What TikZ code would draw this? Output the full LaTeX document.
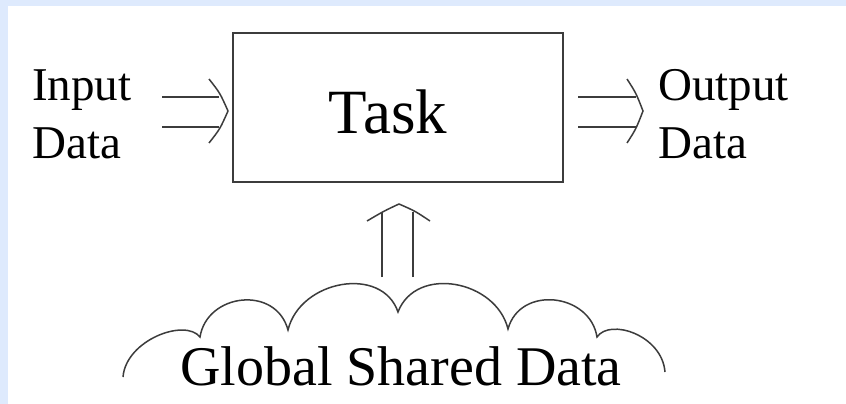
\documentclass[tikz,border=0pt]{standalone}
\usepackage{fontspec}
\setmainfont{Liberation Serif}
\definecolor{bgblue}{RGB}{222,234,253}
\definecolor{ink}{RGB}{60,60,60}
\begin{document}
\begin{tikzpicture}[x=1pt,y=-1pt,
  ln/.style={draw=ink,line width=1.5pt},
  lab/.style={inner sep=0pt,text=black,anchor=base west,align=left},
  midfont/.style={font=\fontsize{47}{58}\selectfont}]
\fill[bgblue] (0,0) rectangle (846,404);
\fill[white] (8,6) rectangle (846,404);
\useasboundingbox (0,0) rectangle (846,404);

% task box
\node[ln,minimum width=330pt,minimum height=149pt,inner sep=0pt,
      text height=51pt,text depth=0pt,font=\fontsize{63}{75}\selectfont]
      (task) at (398,107.5) {Task\rule{20pt}{0pt}};

% labels (anchor is the baseline of the last line)
\node[lab,midfont] (input) at (32,158) {Input\\Data};
\node[lab,midfont] (output) at (658,158) {Output\\Data};
\node[inner sep=0pt,anchor=base,font=\fontsize{56}{66}\selectfont] (global) at (401,385) {Global Shared Data};

% input arrow
\coordinate (ia1) at (162,97);  \coordinate (ib1) at (219,97);
\coordinate (ia2) at (162,127); \coordinate (ib2) at (219,127);
\coordinate (ic1) at (209,79);  \coordinate (ip) at (228,111); \coordinate (ic2) at (209,143);
\draw[ln] (ia1) -- (ib1);
\draw[ln] (ia2) -- (ib2);
\draw[ln] (ic1) .. controls (220,93) .. (ip) .. controls (220,129) .. (ic2);

% output arrow
\coordinate (oa1) at (578,97);  \coordinate (ob1) at (636,97);
\coordinate (oa2) at (578,127); \coordinate (ob2) at (636,127);
\coordinate (oc1) at (627,79);  \coordinate (op) at (643,111); \coordinate (oc2) at (627,143);
\draw[ln] (oa1) -- (ob1);
\draw[ln] (oa2) -- (ob2);
\draw[ln] (oc1) .. controls (636,93) .. (op) .. controls (636,129) .. (oc2);

% up arrow
\coordinate (ua1) at (382,277); \coordinate (ub1) at (382,213);
\coordinate (ua2) at (413,277); \coordinate (ub2) at (413,212);
\coordinate (uc1) at (367,221); \coordinate (up) at (399,204); \coordinate (uc2) at (430,221);
\draw[ln] (ua1) -- (ub1);
\draw[ln] (ua2) -- (ub2);
\draw[ln] (uc1) .. controls (384,211) .. (up) .. controls (415,211) .. (uc2);

% cloud
\draw[ln] (123,377) .. controls (126,340) and (185,318) .. (200,337)
  .. controls (207,293) and (276,285) .. (288,330)
  .. controls (300,280) and (382,265) .. (398,312)
  .. controls (416,265) and (496,280) .. (508,329)
  .. controls (520,285) and (590,293) .. (597,337)
  .. controls (610,318) and (662,335) .. (665,372);
\end{tikzpicture}
\end{document}
